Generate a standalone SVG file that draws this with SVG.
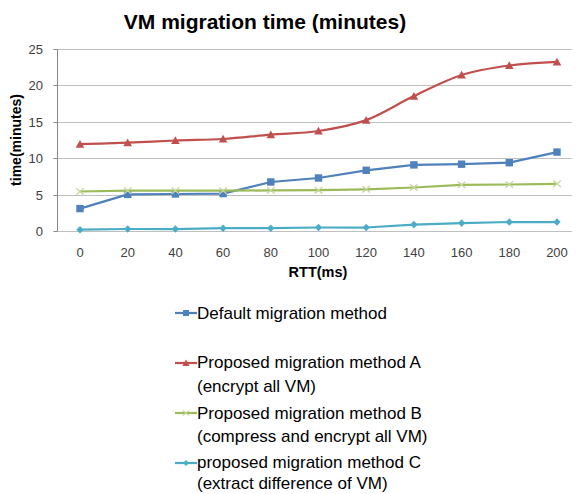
<svg xmlns="http://www.w3.org/2000/svg" width="576" height="494" viewBox="0 0 576 494">
<style>
text{font-family:"Liberation Sans",Arial,sans-serif}
.title{font-size:21px;font-weight:bold;fill:#000}
.tick{font-size:13px;fill:#404040}
.ytick{text-anchor:end}
.xtick{text-anchor:middle}
.axt{font-size:13.5px;font-weight:bold;fill:#000}
.grid{stroke:#c0c0c0;stroke-width:1}
.axis{stroke:#868686;stroke-width:1}
.ser{fill:none;stroke-width:2.25;stroke-linejoin:round}
.leg{font-size:17px;fill:#000}
.blue{stroke:#4F81BD}
.red{stroke:#C0504D}
.green{stroke:#9BBB59}
.cyan{stroke:#4BACC6}
</style>
<defs>
<marker id="mSq" markerUnits="userSpaceOnUse" markerWidth="10" markerHeight="10" refX="5" refY="5" overflow="visible"><rect x="1.3" y="1.3" width="7.4" height="7.4" fill="#4F81BD"/></marker>
<marker id="mTri" markerUnits="userSpaceOnUse" markerWidth="10" markerHeight="10" refX="5" refY="5" overflow="visible"><path d="M5 0.8 L9.3 8.6 L0.7 8.6 Z" fill="#C0504D"/></marker>
<marker id="mX" markerUnits="userSpaceOnUse" markerWidth="10" markerHeight="10" refX="5" refY="5" overflow="visible"><path d="M1.2 1.8 L8.8 8.2 M8.8 1.8 L1.2 8.2" stroke="#C3D69B" stroke-width="1.3" fill="none"/></marker>
<marker id="mDi" markerUnits="userSpaceOnUse" markerWidth="10" markerHeight="10" refX="5" refY="5" overflow="visible"><path d="M5 1.2 L8.6 5 L5 8.8 L1.4 5 Z" fill="#4BACC6"/></marker>
<marker id="lSq" markerUnits="userSpaceOnUse" markerWidth="10" markerHeight="10" refX="5" refY="5" overflow="visible"><rect x="2" y="2" width="6" height="6" fill="#4F81BD"/></marker>
<marker id="lTri" markerUnits="userSpaceOnUse" markerWidth="10" markerHeight="10" refX="5" refY="5" overflow="visible"><path d="M5 1.5 L8.6 8 L1.4 8 Z" fill="#C0504D"/></marker>
<marker id="lX" markerUnits="userSpaceOnUse" markerWidth="10" markerHeight="10" refX="5" refY="5" overflow="visible"><path d="M1.8 2.4 L8.2 7.6 M8.2 2.4 L1.8 7.6" stroke="#C3D69B" stroke-width="1.2" fill="none"/></marker>
<marker id="lDi" markerUnits="userSpaceOnUse" markerWidth="10" markerHeight="10" refX="5" refY="5" overflow="visible"><path d="M5 2 L8 5 L5 8 L2 5 Z" fill="#4BACC6"/></marker>
</defs>

<g id="title"><text class="title" x="265" y="29" text-anchor="middle">VM migration time (minutes)</text></g>

<g id="plot-area">
<line class="grid" x1="57.5" y1="49.5" x2="572" y2="49.5"/>
<line class="grid" x1="57.5" y1="85.5" x2="572" y2="85.5"/>
<line class="grid" x1="57.5" y1="122.5" x2="572" y2="122.5"/>
<line class="grid" x1="57.5" y1="158.5" x2="572" y2="158.5"/>
<line class="grid" x1="57.5" y1="195.5" x2="572" y2="195.5"/>
<line class="grid" x1="57.5" y1="231.5" x2="572" y2="231.5"/>
<line class="axis" x1="57.5" y1="49.5" x2="57.5" y2="231.5"/>
<path class="axis" d="M53.5 49.5H57.5M53.5 85.5H57.5M53.5 122.5H57.5M53.5 158.5H57.5M53.5 195.5H57.5M53.5 231.5H57.5"/>
</g>

<g id="y-axis">
<text class="tick ytick" x="43" y="54">25</text>
<text class="tick ytick" x="43" y="90">20</text>
<text class="tick ytick" x="43" y="127">15</text>
<text class="tick ytick" x="43" y="163">10</text>
<text class="tick ytick" x="43" y="200">5</text>
<text class="tick ytick" x="43" y="236">0</text>
<text class="axt" transform="translate(21,140) rotate(-90)" text-anchor="middle" style="font-size:14px">time(minutes)</text>
</g>

<g id="x-axis">
<text class="tick xtick" x="80" y="256.5">0</text>
<text class="tick xtick" x="127.7" y="256.5">20</text>
<text class="tick xtick" x="175.4" y="256.5">40</text>
<text class="tick xtick" x="223.1" y="256.5">60</text>
<text class="tick xtick" x="270.8" y="256.5">80</text>
<text class="tick xtick" x="318.5" y="256.5">100</text>
<text class="tick xtick" x="366.2" y="256.5">120</text>
<text class="tick xtick" x="413.9" y="256.5">140</text>
<text class="tick xtick" x="461.6" y="256.5">160</text>
<text class="tick xtick" x="509.3" y="256.5">180</text>
<text class="tick xtick" x="557" y="256.5">200</text>
<text class="axt" x="318" y="277" text-anchor="middle" style="font-size:14.5px">RTT(ms)</text>
</g>

<g id="connectors">
<path id="series-A" class="ser red" marker-start="url(#mTri)" marker-mid="url(#mTri)" marker-end="url(#mTri)" d="M80 144.1 C95.9 143.87 111.8 143.3 127.7 142.7 C143.6 142.1 159.5 141.12 175.4 140.5 C191.3 139.88 207.2 139.97 223.1 139.0 C239 138.03 254.9 136.03 270.8 134.7 C286.7 133.37 302.6 133.43 318.5 131.0 C334.4 128.57 350.3 125.92 366.2 120.1 C382.1 114.28 398 103.62 413.9 96.1 C429.8 88.58 445.7 80.1 461.6 75.0 C477.5 69.9 493.4 67.68 509.3 65.5 C525.2 63.32 541.1 62.5 557 61.9"/>
<polyline id="series-default" class="ser blue" marker-start="url(#mSq)" marker-mid="url(#mSq)" marker-end="url(#mSq)" points="80,208.6 127.7,194.4 175.4,194 223.1,193.6 270.8,182 318.5,178 366.2,170.3 413.9,164.9 461.6,164.2 509.3,162.7 557,152.1"/>
<polyline id="series-B" class="ser green" marker-start="url(#mX)" marker-mid="url(#mX)" marker-end="url(#mX)" points="80,191.5 127.7,190.7 175.4,190.7 223.1,190.7 270.8,190.4 318.5,190.2 366.2,189.3 413.9,187.5 461.6,184.9 509.3,184.5 557,183.8"/>
<polyline id="series-C" class="ser cyan" marker-start="url(#mDi)" marker-mid="url(#mDi)" marker-end="url(#mDi)" points="80,229.7 127.7,229 175.4,229 223.1,228.2 270.8,228.2 318.5,227.5 366.2,227.5 413.9,224.6 461.6,223.1 509.3,222 557,222"/>
</g>

<g id="legend">
<g id="legend-default">
<polyline class="ser blue" points="175,313 186,313 197,313" marker-mid="url(#lSq)"/>
<text class="leg" x="197" y="318.5">Default migration method</text>
</g>
<g id="legend-A">
<polyline class="ser red" points="175,363 186,363 197,363" marker-mid="url(#lTri)"/>
<text class="leg" x="197" y="368">Proposed migration method A</text>
<text class="leg" x="197" y="392">(encrypt all VM)</text>
</g>
<g id="legend-B">
<polyline class="ser green" points="175,413 186,413 197,413" marker-mid="url(#lX)"/>
<text class="leg" x="197" y="418.5">Proposed migration method B</text>
<text class="leg" x="197" y="442">(compress and encrypt all VM)</text>
</g>
<g id="legend-C">
<polyline class="ser cyan" points="175,463 186,463 197,463" marker-mid="url(#lDi)"/>
<text class="leg" x="197" y="468">proposed migration method C</text>
<text class="leg" x="197" y="489">(extract difference of VM)</text>
</g>
</g>
</svg>
